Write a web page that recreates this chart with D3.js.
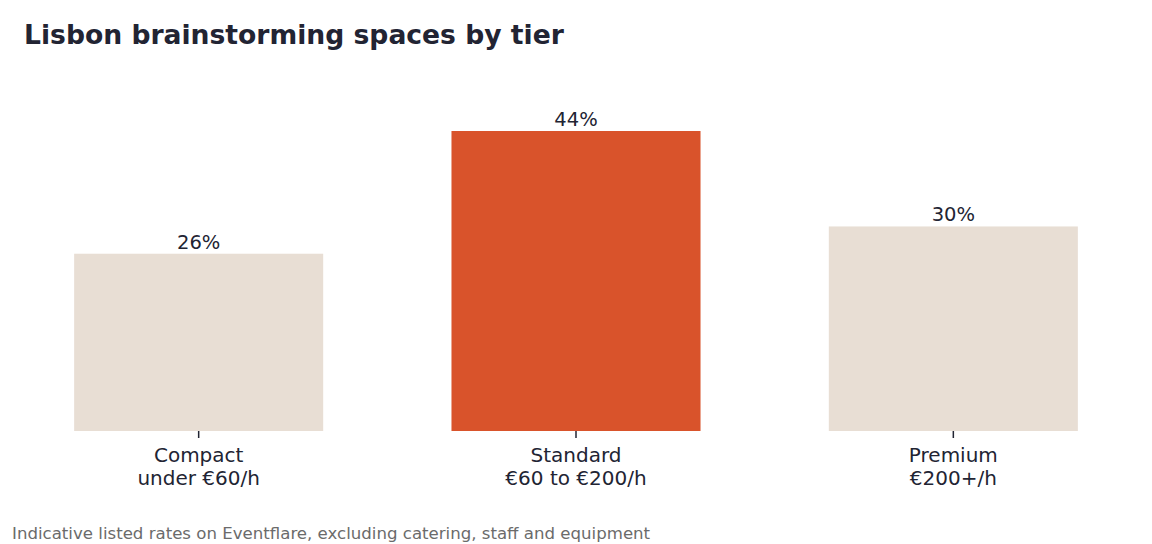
<!DOCTYPE html>
<html>
<head>
<meta charset="utf-8">
<script src="https://cdn.jsdelivr.net/npm/d3@7"></script>
<style>
  body { margin: 0; background: #fff; }
  svg { display: block; font-family: "DejaVu Sans", sans-serif; }
</style>
</head>
<body>
<div id="chart"></div>
<script>
// tiers and share of listed spaces
const tiers = ["Compact", "Standard", "Premium"];
const priceBands = ["under €60/h", "€60 to €200/h", "€200+/h"];
const shares = [26, 44, 30];
const highlight = "Standard";

const width = 1152;
const height = 544;
const baseline = 431;
const plotTop = 131;

const svg = d3.select("#chart").append("svg")
  .attr("width", width)
  .attr("height", height);

const x = d3.scaleBand()
  .domain(tiers)
  .range([10, 1142])
  .paddingInner(0.34)
  .paddingOuter(0.17);

const y = d3.scaleLinear()
  .domain([0, 44])
  .range([baseline, plotTop]);

svg.append("text")
  .attr("x", 24)
  .attr("y", 44)
  .attr("font-size", 26.6)
  .attr("font-weight", "bold")
  .attr("fill", "#222433")
  .text("Lisbon brainstorming spaces by tier");

svg.append("g")
  .selectAll("rect")
  .data(tiers)
  .join("rect")
  .attr("x", d => x(d))
  .attr("y", (d, i) => y(shares[i]))
  .attr("width", x.bandwidth())
  .attr("height", (d, i) => baseline - y(shares[i]))
  .attr("fill", d => d === highlight ? "#D9532B" : "#E8DED4");

svg.append("g")
  .selectAll("text")
  .data(tiers)
  .join("text")
  .attr("x", d => x(d) + x.bandwidth() / 2)
  .attr("y", (d, i) => y(shares[i]) - 5)
  .attr("text-anchor", "middle")
  .attr("font-size", 19.5)
  .attr("fill", "#222433")
  .text((d, i) => `${shares[i]}%`);

const axis = svg.append("g")
  .attr("transform", `translate(0,${baseline})`)
  .call(d3.axisBottom(x).tickSize(7).tickPadding(10).tickFormat(""));

axis.select(".domain").remove();
axis.selectAll(".tick line").attr("stroke", "#222433").attr("stroke-width", 1.5);

axis.selectAll(".tick text").each(function (d, i) {
  const t = d3.select(this)
    .attr("font-size", 20)
    .attr("font-family", "DejaVu Sans, sans-serif")
    .attr("fill", "#222433");
  t.append("tspan").attr("x", 0).attr("dy", "0.71em").text(d);
  t.append("tspan").attr("x", 0).attr("dy", "1.12em").text(priceBands[i]);
});

svg.append("text")
  .attr("x", 12)
  .attr("y", 539)
  .attr("font-size", 16.6)
  .attr("fill", "#6b6b6b")
  .text("Indicative listed rates on Eventflare, excluding catering, staff and equipment");
</script>
</body>
</html>
